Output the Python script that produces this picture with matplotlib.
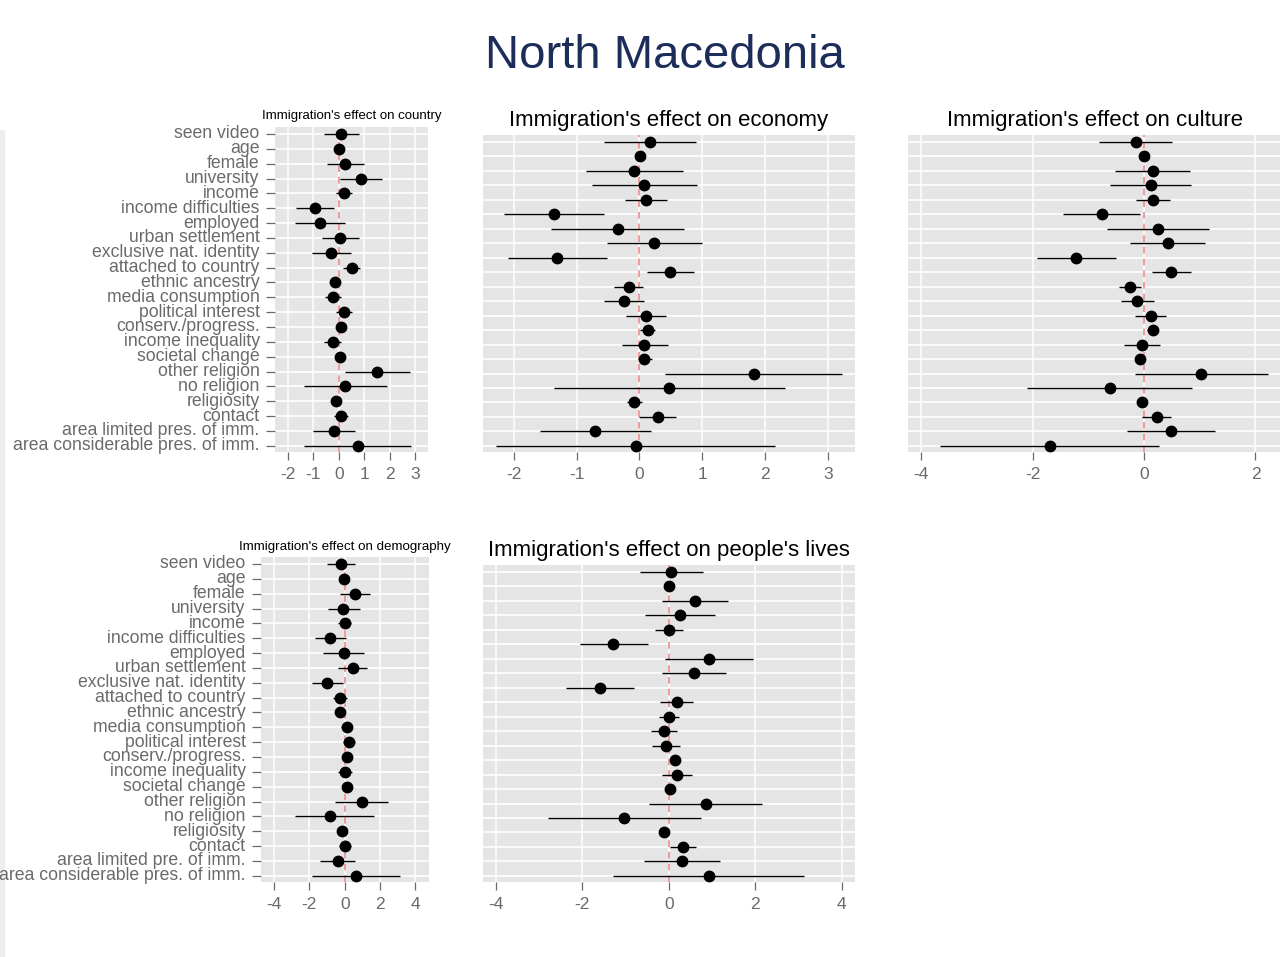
import matplotlib

matplotlib.use("Agg")
import matplotlib.pyplot as plt
from matplotlib.patches import Rectangle

plt.rcParams["font.family"] = ["Liberation Sans", "DejaVu Sans"]

W, H = 1280, 957

labels = [
    "seen video", "age", "female", "university", "income",
    "income difficulties", "employed", "urban settlement",
    "exclusive nat. identity", "attached to country", "ethnic ancestry",
    "media consumption", "political interest", "conserv./progress.",
    "income inequality", "societal change", "other religion", "no religion",
    "religiosity", "contact", "area limited pres. of imm.",
    "area considerable pres. of imm.",
]
labels_demography = labels[:20] + [
    "area limited pre. of imm.", "area considerable pres. of imm."
]

# Immigration's effect on country
est_country = [0.10, 0.00, 0.26, 0.86, 0.21, -0.92, -0.72, 0.05, -0.30, 0.50, -0.14,
               -0.22, 0.21, 0.10, -0.24, 0.05, 1.49, 0.26, -0.09, 0.10, -0.18, 0.76]
lo_country = [-0.59, -0.06, -0.48, 0.04, -0.12, -1.68, -1.71, -0.67, -1.05, 0.17, -0.31,
              -0.52, -0.10, -0.07, -0.58, -0.09, 0.24, -1.37, -0.26, -0.18, -1.02, -1.35]
hi_country = [0.80, 0.06, 0.98, 1.68, 0.52, -0.18, 0.26, 0.79, 0.47, 0.84, 0.03,
              0.09, 0.52, 0.27, 0.10, 0.20, 2.79, 1.90, 0.07, 0.38, 0.65, 2.83]

# Immigration's effect on economy
est_economy = [0.16, 0.01, -0.08, 0.07, 0.11, -1.36, -0.34, 0.23, -1.31, 0.49, -0.17,
               -0.25, 0.10, 0.13, 0.08, 0.08, 1.82, 0.47, -0.08, 0.29, -0.70, -0.06]
lo_economy = [-0.57, -0.03, -0.85, -0.75, -0.23, -2.15, -1.40, -0.52, -2.09, 0.12, -0.41,
              -0.57, -0.22, 0.01, -0.28, -0.02, 0.41, -1.36, -0.20, 0.00, -1.59, -2.29]
hi_economy = [0.90, 0.05, 0.69, 0.92, 0.44, -0.57, 0.71, 0.99, -0.52, 0.86, 0.06,
              0.08, 0.42, 0.25, 0.45, 0.20, 3.22, 2.31, 0.04, 0.58, 0.19, 2.16]

# Immigration's effect on culture
est_culture = [-0.15, 0.00, 0.16, 0.13, 0.16, -0.76, 0.25, 0.42, -1.22, 0.49, -0.26,
               -0.12, 0.12, 0.16, -0.03, -0.08, 1.02, -0.62, -0.04, 0.23, 0.49, -1.69]
lo_culture = [-0.81, -0.04, -0.53, -0.62, -0.14, -1.46, -0.66, -0.26, -1.93, 0.14, -0.46,
              -0.41, -0.17, 0.06, -0.37, -0.15, -0.17, -2.11, -0.11, -0.03, -0.30, -3.66]
hi_culture = [0.50, 0.04, 0.83, 0.85, 0.46, -0.07, 1.16, 1.10, -0.51, 0.84, -0.05,
              0.17, 0.40, 0.25, 0.29, 0.00, 2.22, 0.86, 0.05, 0.49, 1.27, 0.27]

# Immigration's effect on demography
est_demography = [-0.23, -0.02, 0.60, -0.08, 0.00, -0.81, -0.06, 0.45, -0.98, -0.28, -0.25,
                  0.13, 0.23, 0.11, 0.04, 0.11, 0.96, -0.81, -0.13, 0.02, -0.40, 0.64]
lo_demography = [-1.02, -0.08, -0.26, -0.96, -0.36, -1.68, -1.25, -0.36, -1.87, -0.66, -0.47,
                 -0.23, -0.11, -0.11, -0.38, -0.08, -0.53, -2.79, -0.34, -0.30, -1.38, -1.87]
hi_demography = [0.60, 0.04, 1.43, 0.87, 0.34, 0.08, 1.11, 1.28, -0.11, 0.11, -0.02,
                 0.43, 0.57, 0.32, 0.42, 0.30, 2.43, 1.66, 0.09, 0.34, 0.60, 3.11]

# Immigration's effect on people's lives
est_lives = [0.06, 0.01, 0.61, 0.25, 0.01, -1.28, 0.93, 0.58, -1.59, 0.18, 0.00,
             -0.12, -0.06, 0.15, 0.19, 0.02, 0.86, -1.04, -0.11, 0.32, 0.30, 0.92]
lo_lives = [-0.66, -0.05, -0.15, -0.55, -0.32, -2.05, -0.09, -0.16, -2.37, -0.21, -0.23,
            -0.42, -0.38, 0.05, -0.15, -0.05, -0.45, -2.80, -0.20, 0.02, -0.58, -1.30]
hi_lives = [0.79, 0.07, 1.36, 1.06, 0.33, -0.49, 1.96, 1.33, -0.81, 0.55, 0.24,
            0.20, 0.25, 0.24, 0.54, 0.10, 2.16, 0.75, -0.02, 0.62, 1.18, 3.14]

TEXT_GREY = "#6a6a6a"


def add_axes_px(fig, left, top, right, bottom):
    return fig.add_axes([left / W, 1 - bottom / H, (right - left) / W, (bottom - top) / H])


def draw_panel(ax, est, lo, hi, xlim, xticks, ylabels=None):
    n = len(est)
    y = list(range(n))
    ax.set_facecolor("#e5e5e5")
    for s in ax.spines.values():
        s.set_visible(False)
    for t in xticks:
        ax.axvline(t, color="white", lw=1.1, zorder=0)
    for yy in y:
        ax.axhline(yy, color="white", lw=1.2, zorder=0)
    ax.axvline(0, color="#ef8a8a", lw=1.2, dashes=(4, 3), zorder=1)
    ax.hlines(y, lo, hi, color="black", lw=1.0, zorder=2)
    ax.plot(est, y, "o", color="black", ms=7.5, zorder=3)
    ax.set_xlim(*xlim)
    ax.set_ylim(n - 1 + 0.42, -0.47)
    ax.set_xticks(xticks)
    ax.set_xticklabels([str(t) for t in xticks])
    ax.tick_params(axis="x", colors=TEXT_GREY, labelsize=12.5, length=6, width=0.9, pad=4.5)
    if ylabels is not None:
        ax.set_yticks(y)
        ax.set_yticklabels(ylabels)
        ax.tick_params(axis="y", colors=TEXT_GREY, labelsize=12.7, length=6.5, width=0.9, pad=4.5)
        for lab in ax.get_yticklabels():
            lab.set_verticalalignment("center")
    else:
        ax.set_yticks([])


fig = plt.figure(figsize=(W / 100, H / 100), dpi=100)
fig.patches.append(Rectangle((0, 0), 4 / W, 1 - 130 / H, transform=fig.transFigure,
                             color="#eceef2", zorder=-1))

fig.text(665 / W, 1 - 68 / H, "North Macedonia", ha="center", va="baseline",
         fontsize=34, color="#1c2d5a")

ax1 = add_axes_px(fig, 275, 127, 428, 452)
draw_panel(ax1, est_country, lo_country, hi_country, (-2.5, 3.5), [-2, -1, 0, 1, 2, 3], labels)
fig.text(352 / W, 1 - 119.5 / H, "Immigration's effect on country", ha="center",
         va="baseline", fontsize=9.5)

ax2 = add_axes_px(fig, 483, 135, 855, 452)
draw_panel(ax2, est_economy, lo_economy, hi_economy, (-2.49, 3.43), [-2, -1, 0, 1, 2, 3])
fig.text(668.5 / W, 1 - 126 / H, "Immigration's effect on economy", ha="center",
         va="baseline", fontsize=16)

ax3 = add_axes_px(fig, 908, 135, 1280, 452)
draw_panel(ax3, est_culture, lo_culture, hi_culture, (-4.24, 2.44), [-4, -2, 0, 2])
fig.text(1095 / W, 1 - 126 / H, "Immigration's effect on culture", ha="center",
         va="baseline", fontsize=16)

ax4 = add_axes_px(fig, 261, 557, 429, 882)
draw_panel(ax4, est_demography, lo_demography, hi_demography, (-4.74, 4.77),
           [-4, -2, 0, 2, 4], labels_demography)
fig.text(345 / W, 1 - 550 / H, "Immigration's effect on demography", ha="center",
         va="baseline", fontsize=9.6)

ax5 = add_axes_px(fig, 483, 565, 855, 882)
draw_panel(ax5, est_lives, lo_lives, hi_lives, (-4.30, 4.31), [-4, -2, 0, 2, 4])
fig.text(668.5 / W, 1 - 556 / H, "Immigration's effect on people's lives", ha="center",
         va="baseline", fontsize=16)

fig.savefig("out.png", dpi=100)
